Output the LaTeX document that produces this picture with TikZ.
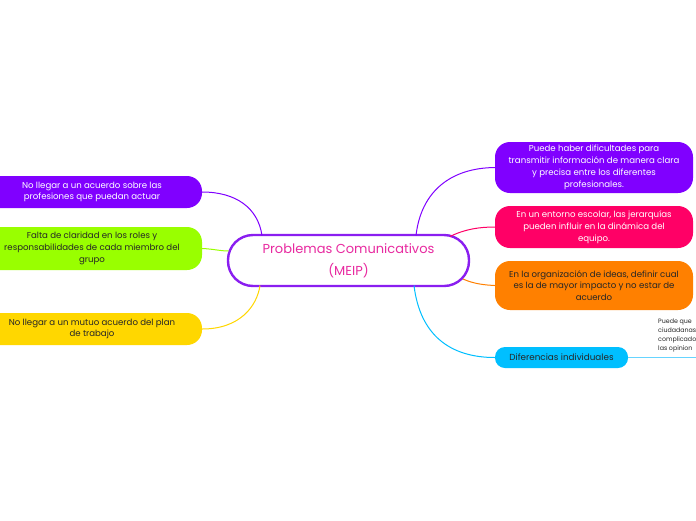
\documentclass[tikz,border=0pt]{standalone}
\usepackage{fontspec}
\setmainfont{Poppins}
\begin{document}
\begin{tikzpicture}[x=1pt,y=-1pt,
  box/.style={rounded corners=15pt, inner sep=0pt, align=center,
    font=\fontsize{8.6}{11.8}\selectfont},
  conn/.style={line width=1pt},
]
\definecolor{cPurple}{HTML}{8000FF}
\definecolor{cGreen}{HTML}{99FF00}
\definecolor{cYellow}{HTML}{FFD700}
\definecolor{cPink}{HTML}{FF0066}
\definecolor{cOrange}{HTML}{FF8000}
\definecolor{cCyan}{HTML}{00BFFF}
\definecolor{cLine}{HTML}{66D4FF}
\definecolor{cTitle}{HTML}{E82AA0}
\definecolor{cBorder}{HTML}{8A1EF0}
\definecolor{cDark}{HTML}{262626}
\useasboundingbox (0,0) rectangle (696,520);
\clip (0,0) rectangle (696,520);
\fill[white] (0,0) rectangle (696,520);

% central
\node[draw=cBorder, line width=2.4pt, fill=white, rounded corners=25pt,
  minimum width=241pt, minimum height=51pt, align=center, inner sep=0pt,
  text=cTitle, font=\fontsize{13}{22}\selectfont] (c) at (348.5,260.5)
  {Problemas Comunicativos\\(MEIP)};

% left nodes
\node[box, fill=cPurple, text=white, minimum width=220pt, minimum height=32pt] (L1) at (92,192)
  {No llegar a un acuerdo sobre las\\profesiones que puedan actuar};
\node[box, fill=cGreen, text=cDark, minimum width=220pt, minimum height=43pt] (L2) at (92,248.5)
  {Falta de claridad en los roles y\\responsabilidades de cada miembro del\\grupo};
\node[box, fill=cYellow, text=cDark, minimum width=220pt, minimum height=32pt] (L3) at (92,329)
  {No llegar a un mutuo acuerdo del plan\\de trabajo};

% right nodes
\node[box, fill=cPurple, text=white, minimum width=198pt, minimum height=51pt] (R1) at (594,167.5)
  {Puede haber dificultades para\\transmitir información de manera clara\\y precisa entre los diferentes\\profesionales.};
\node[box, fill=cPink, text=white, minimum width=198pt, minimum height=42pt] (R2) at (594,227)
  {En un entorno escolar, las jerarquías\\pueden influir en la dinámica del\\equipo.};
\node[box, fill=cOrange, text=cDark, minimum width=198pt, minimum height=49pt] (R3) at (594,285.5)
  {En la organización de ideas, definir cual\\es la de mayor impacto y no estar de\\acuerdo};
\node[box, rounded corners=10pt, fill=cCyan, text=cDark, minimum width=133pt, minimum height=21pt,
  font=\fontsize{8.8}{10}\selectfont] (R4) at (561.5,357.5)
  {Diferencias individuales};

% sub text (clipped at edge)
\node[anchor=north west, align=left, inner sep=0pt, text=cDark,
  font=\fontsize{6.3}{9}\selectfont] (S) at (658,319)
  {Puede que\\ciudadanas\\complicado\\las opinion};
\coordinate (Send) at (700,357.5);

% attach points on central node
\coordinate (cL1) at (262,235.5);
\coordinate (cL2) at (228.5,251);
\coordinate (cL3) at (260,285.5);
\coordinate (cR1) at (416,235.5);
\coordinate (cR2) at (450,236.5);
\coordinate (cR3) at (463,279);
\coordinate (cR4) at (414,285.5);

% connectors
\draw[conn, cPurple] (L1.east) .. controls (236,192) and (258,208) .. (cL1);
\draw[conn, cGreen] (L2.east) .. controls (214,249) and (220,251) .. (cL2);
\draw[conn, cYellow] (L3.east) .. controls (240,329) and (257,306) .. (cL3);
\draw[conn, cPurple] (cR1) .. controls (421,192) and (450,168) .. (R1.west);
\draw[conn, cPink] (cR2) .. controls (465,229) and (480,227) .. (R2.west);
\draw[conn, cOrange] (cR3) .. controls (474,284) and (485,285) .. (R3.west);
\draw[conn, cCyan] (cR4) .. controls (420,335) and (450,357.5) .. (R4.west);
\draw[conn, cLine] (R4.east) -- (Send);
\end{tikzpicture}
\end{document}
